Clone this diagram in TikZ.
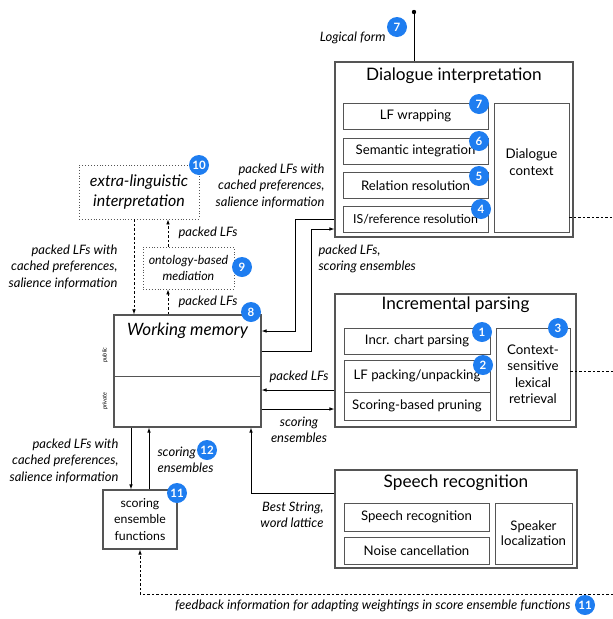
\documentclass[tikz,border=0pt]{standalone}
\usepackage{fontspec}
\setmainfont{Lato}
\usetikzlibrary{arrows.meta}
\definecolor{badgeblue}{RGB}{30,125,240}
\definecolor{boxgray}{RGB}{85,85,85}
\begin{document}
\begin{tikzpicture}[x=1pt,y=-1pt,
  box/.style={draw=boxgray,line width=1.1pt,inner sep=0pt},
  dotbox/.style={draw=boxgray,line width=0.9pt,dotted,inner sep=0pt,align=center},
  sub/.style={draw=boxgray,line width=0.8pt,inner sep=0pt,align=center,font=\fontsize{13.2}{15}\selectfont},
  title/.style={font=\fontsize{17.2}{19}\selectfont},
  lbl/.style={font=\fontsize{13}{16.5}\selectfont\itshape},
  badge/.style={circle,fill=badgeblue,text=white,inner sep=0pt,minimum size=20pt,font=\fontsize{11.5}{11.5}\selectfont\bfseries},
  wire/.style={line width=0.8pt,-{Latex[length=5pt,width=3.6pt]}},
  dwire/.style={wire,dash pattern=on 2.5pt off 2pt}]
\useasboundingbox (0,0) rectangle (613,619);

\node[box,minimum width=238pt,minimum height=175pt] (di) at (454,149.5) {};
\node[title] (dititle) at (454,76) {Dialogue interpretation};
\node[sub,minimum width=145pt,minimum height=26pt] (lfw) at (415.5,116) {LF wrapping};
\node[sub,minimum width=145pt,minimum height=26pt] (sem) at (415.5,151) {Semantic integration};
\node[sub,minimum width=145pt,minimum height=26pt] (rel) at (415.5,185.5) {Relation resolution};
\node[sub,minimum width=145pt,minimum height=26pt,font=\fontsize{12.4}{15}\selectfont] (isr) at (415.5,219) {IS/reference resolution};
\node[sub,minimum width=75pt,minimum height=129pt] (dc) at (531.5,167.5) {};
\node[font=\fontsize{13.3}{17}\selectfont,align=center] (dctext) at (531.5,162) {Dialogue\\context};

\node[box,minimum width=241pt,minimum height=133pt] (ip) at (455.5,360.5) {};
\node[title] (iptitle) at (455.5,305) {Incremental parsing};
\node[sub,minimum width=146pt,minimum height=26pt] (icp) at (417,341) {Incr. chart parsing};
\node[sub,minimum width=146pt,minimum height=32pt] (lfp) at (417,376) {LF packing/unpacking};
\node[sub,minimum width=146pt,minimum height=28pt] (sbp) at (417,406) {Scoring-based pruning};
\node[sub,minimum width=74pt,minimum height=92pt,font=\fontsize{13.3}{16.5}\selectfont] (csl) at (533,374) {Context-\\sensitive\\lexical\\retrieval};

\node[box,minimum width=242pt,minimum height=98pt] (sr) at (456,519) {};
\node[title] (srtitle) at (456,483) {Speech recognition};
\node[sub,minimum width=145pt,minimum height=28pt] (srs) at (416.5,517) {Speech recognition};
\node[sub,minimum width=145pt,minimum height=27pt] (noc) at (416.5,550.5) {Noise cancellation};
\node[sub,minimum width=77pt,minimum height=61pt] (spl) at (533.5,533.5) {Speaker\\localization};

\node[box,minimum width=147pt,minimum height=112pt] (wm) at (187.5,371) {};
\node[font=\fontsize{17}{19}\selectfont\itshape] (wmtitle) at (187.5,331) {Working memory};
\draw[boxgray,line width=0.6pt] (wm.west |- 0,376) -- (wm.east |- 0,376);
\node[rotate=90,font=\fontsize{6}{6}\selectfont\itshape] (pub) at (105,355) {public};
\node[rotate=90,font=\fontsize{6}{6}\selectfont\itshape] (priv) at (105,401) {private};

\node[dotbox,minimum width=120pt,minimum height=54pt,font=\fontsize{16}{20}\selectfont\itshape] (ext) at (139,192) {extra-linguistic\\interpretation};
\node[dotbox,minimum width=91pt,minimum height=42pt,font=\fontsize{12.4}{16}\selectfont\itshape] (ont) at (188.5,268) {ontology-based\\mediation};
\node[box,minimum width=74pt,minimum height=59pt,align=center,font=\fontsize{12.3}{16.5}\selectfont] (sef) at (140,519.5) {scoring\\ensemble\\functions};

\coordinate (lf) at (414,12);
\coordinate (dcout) at (613,217);
\coordinate (cslout) at (613,371);
\coordinate (fb) at (613,594);

\draw[line width=0.8pt] (lf) -- (lf |- di.north);
\fill (lf) circle (2.2pt);
\draw[wire] (di.west |- 0,219) -| (295,331) -- (wm.east |- 0,331);
\draw[wire] (wm.east |- 0,351) -| (311,229) -- (di.west |- 0,229);
\draw[wire] (ip.west |- 0,390) -- (wm.east |- 0,390);
\draw[wire] (wm.east |- 0,409) -- (ip.west |- 0,409);
\draw[wire] (sr.west |- 0,493) -| (wm.south -| 251,0);
\draw[wire] (wm.south -| 131,0) -- (sef.north -| 131,0);
\draw[wire] (sef.north -| 149,0) -- (wm.south -| 149,0);
\draw[dwire] (fb) -| (sef.south);
\draw[line width=0.8pt,dash pattern=on 2.5pt off 2pt] (dc.east |- dcout) -- (dcout);
\draw[line width=0.8pt,dash pattern=on 2.5pt off 2pt] (csl.east |- cslout) -- (cslout);
\draw[dwire] (ext.south -| 134,0) -- (wm.north -| 134,0);
\draw[dwire] (wm.north -| 168,0) -- (ont.south -| 168,0);
\draw[dwire] (ont.north -| 168,0) -- (ext.south -| 168,0);

\node[lbl,anchor=east] (lflbl) at (389,38) {Logical form};
\node[lbl,anchor=east,align=right] (dilbl) at (328,186) {packed LFs with\\cached preferences,\\salience information};
\node[lbl,anchor=west,align=left] (wmlbl) at (315,259) {packed LFs,\\scoring ensembles};
\node[lbl] (iplbl) at (299,377) {packed LFs};
\node[lbl,align=center] (sclbl) at (299,430) {scoring\\ensembles};
\node[lbl,anchor=east,align=right] (srlbl) at (327,515) {Best String,\\word lattice};
\node[lbl,anchor=west] (ontup) at (175,233) {packed LFs};
\node[lbl,anchor=west] (ontlo) at (175,302) {packed LFs};
\node[lbl,anchor=east,align=right] (extlbl) at (121,267) {packed LFs with\\cached preferences,\\salience information};
\node[lbl,anchor=east,align=right] (seflbl) at (122,461) {packed LFs with\\cached preferences,\\salience information};
\node[lbl,anchor=west,align=left] (sewlbl) at (154,460) {scoring\\ensembles};
\node[lbl,anchor=east] (fblbl) at (574,606) {feedback information for adapting weightings in score ensemble functions};

\node[badge] (b7a) at (397,27) {7};
\node[badge] (b7) at (479,104) {7};
\node[badge] (b6) at (479,141) {6};
\node[badge] (b5) at (479,176) {5};
\node[badge] (b4) at (481,209) {4};
\node[badge] (b1) at (482,332) {1};
\node[badge] (b2) at (483,365) {2};
\node[badge] (b3) at (558,328) {3};
\node[badge] (b8) at (251,312) {8};
\node[badge] (b9) at (242,267) {9};
\node[badge] (b10) at (199,165) {10};
\node[badge] (b11) at (177,493) {11};
\node[badge] (b12) at (207,450) {12};
\node[badge] (b11b) at (585,605) {11};
\end{tikzpicture}
\end{document}
